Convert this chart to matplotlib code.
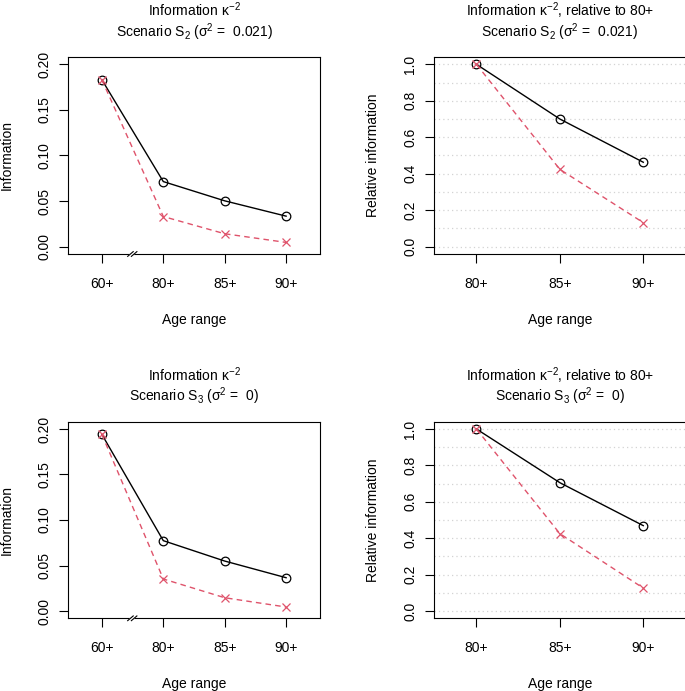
import matplotlib
matplotlib.use('Agg')
import matplotlib.pyplot as plt
from matplotlib.ticker import MultipleLocator, FormatStrFormatter, FixedLocator
from matplotlib.transforms import blended_transform_factory

plt.rcParams['font.family'] = ['Liberation Sans', 'DejaVu Sans']
plt.rcParams['mathtext.fontset'] = 'custom'
plt.rcParams['mathtext.rm'] = 'Liberation Sans'
plt.rcParams['mathtext.it'] = 'Liberation Sans:italic'
plt.rcParams['mathtext.default'] = 'rm'

# ---------------- data ----------------
age_all = ['60+', '80+', '85+', '90+']
age_rel = ['80+', '85+', '90+']

s2_black = [0.183, 0.0714, 0.0503, 0.0335]
s2_red = [0.183, 0.0331, 0.0142, 0.0047]
s2_rel_black = [1.0, 0.700, 0.463]
s2_rel_red = [1.0, 0.424, 0.132]

s3_black = [0.194, 0.0773, 0.0549, 0.0366]
s3_red = [0.194, 0.0352, 0.0146, 0.0044]
s3_rel_black = [1.0, 0.705, 0.469]
s3_rel_red = [1.0, 0.425, 0.126]

title_abs = 'Information κ$^{-2}$'
title_rel = 'Information κ$^{-2}$, relative to 80+'
sub_s2 = 'Scenario S$_2$ (σ$^2$ =  0.021)'
sub_s3 = 'Scenario S$_3$ (σ$^2$ =  0)'

RED = '#DF536B'
FS = 10
TFS = 10

W, H = 685, 691
fig = plt.figure(figsize=(W / 100, H / 100), dpi=100)


def px_axes(left, top, right, bottom):
    return fig.add_axes([left / W, 1 - bottom / H, (right - left) / W, (bottom - top) / H])


def style(ax, title1, title2, ylabel):
    for s in ax.spines.values():
        s.set_linewidth(0.8)
    ax.tick_params(axis='both', direction='out', length=6.5, width=0.8, labelsize=FS)
    ax.tick_params(axis='x', pad=10.0)
    ax.tick_params(axis='y', pad=5.5)
    for lab in ax.get_yticklabels():
        lab.set_rotation(90)
        lab.set_va('center')
        lab.set_ha('right')
    ax.set_xlabel('Age range', fontsize=FS)
    ax.xaxis.set_label_coords(0.5, -66 / 197)
    ax.xaxis.label.set_va('center')
    ax.set_ylabel(ylabel, fontsize=FS)
    ax.yaxis.set_label_coords(-61 / 252, 0.5)
    ax.yaxis.label.set_va('center')
    ax.annotate(title1, xy=(0.5, 1), xycoords='axes fraction', xytext=(0, 41.0 * 0.72),
                textcoords='offset points', ha='center', va='baseline', fontsize=TFS)
    ax.annotate(title2, xy=(0.5, 1), xycoords='axes fraction', xytext=(0, 20.3 * 0.72),
                textcoords='offset points', ha='center', va='baseline', fontsize=TFS)


def draw_series(ax, x, black, red):
    ax.plot(x, black, color='black', lw=1.0, marker='o', ms=6.2, mfc='none', mec='black', mew=0.9,
            clip_on=False, zorder=3)
    ax.plot(x, red, color=RED, lw=1.0, ls=(0, (4, 3)), marker='x', ms=6.2, mec=RED, mew=0.9,
            clip_on=False, zorder=3)


def abs_panel(ax, black, red, t1, t2):
    x = list(range(1, len(age_all) + 1))
    draw_series(ax, x, black, red)
    ax.set_xlim(0.448, 4.552)
    ax.set_ylim(-0.008, 0.208)
    ax.set_xticks(x)
    ax.set_xticklabels(age_all)
    ax.yaxis.set_major_locator(FixedLocator([0.0, 0.05, 0.10, 0.15, 0.20]))
    ax.yaxis.set_major_formatter(FormatStrFormatter('%.2f'))
    style(ax, t1, t2, 'Information')
    # axis break marks between 60+ and 80+
    tr = blended_transform_factory(ax.transData, ax.transAxes)
    ax.fill([1.43, 1.51, 1.56, 1.48], [-0.012, 0.012, 0.012, -0.012], color='white',
            transform=tr, clip_on=False, zorder=5)
    ax.plot([1.42, 1.51], [-0.012, 0.012], color='black', lw=0.8, transform=tr, clip_on=False, zorder=6)
    ax.plot([1.48, 1.57], [-0.012, 0.012], color='black', lw=0.8, transform=tr, clip_on=False, zorder=6)


def rel_panel(ax, black, red, t1, t2):
    x = list(range(1, len(age_rel) + 1))
    draw_series(ax, x, black, red)
    ax.set_xlim(0.488, 3.512)
    ax.set_ylim(-0.04, 1.04)
    ax.set_xticks(x)
    ax.set_xticklabels(age_rel)
    ax.yaxis.set_major_locator(MultipleLocator(0.2))
    ax.yaxis.set_minor_locator(MultipleLocator(0.1))
    ax.yaxis.set_major_formatter(FormatStrFormatter('%.1f'))
    ax.grid(which='both', axis='y', color='#D3D3D3', lw=0.9, ls=(0, (1, 2.5)), zorder=0)
    ax.tick_params(axis='y', which='minor', length=0)
    ax.set_axisbelow(True)
    style(ax, t1, t2, 'Relative information')


ax1 = px_axes(68, 57, 320, 254)
ax2 = px_axes(433.7, 57, 686, 254)
ax3 = px_axes(68, 421.7, 320, 618.3)
ax4 = px_axes(433.7, 421.7, 686, 618.3)

abs_panel(ax1, s2_black, s2_red, title_abs, sub_s2)
rel_panel(ax2, s2_rel_black, s2_rel_red, title_rel, sub_s2)
abs_panel(ax3, s3_black, s3_red, title_abs, sub_s3)
rel_panel(ax4, s3_rel_black, s3_rel_red, title_rel, sub_s3)

fig.savefig('out.png', dpi=100, facecolor='white')
